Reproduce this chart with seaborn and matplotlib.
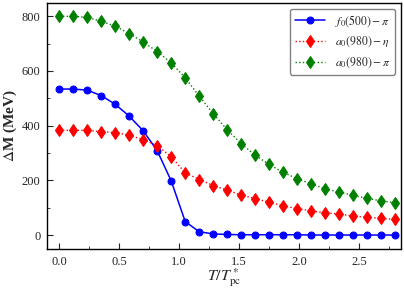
import numpy as np
import pandas as pd
import seaborn as sns
import matplotlib.pyplot as plt

# T/T*_pc grid
t_ratio = [0.0, 0.117, 0.233, 0.35, 0.467, 0.583, 0.7, 0.817, 0.933, 1.05, 1.167, 1.283,
           1.4, 1.517, 1.633, 1.75, 1.867, 1.983, 2.1, 2.217, 2.333, 2.45, 2.567, 2.683, 2.8]

# mass differences (MeV)
dm_f0_pi = [534, 534, 530, 510, 478, 435, 381, 308, 198, 49, 12, 4,
            2, 1, 1, 1, 1, 1, 0, 0, 0, 0, 0, 0, 0]
dm_a0_eta = [383, 383, 383, 378, 375, 365, 349, 327, 286, 228, 203, 181,
             164, 146, 133, 120, 107, 97, 88, 81, 77, 69, 65, 61, 57]
dm_a0_pi = [800, 800, 796, 782, 764, 737, 706, 671, 630, 575, 508, 444,
            385, 334, 292, 258, 229, 206, 187, 169, 157, 145, 134, 125, 118]

labels = [r'$f_0(500)-\pi$', r'$a_0(980)-\eta$', r'$a_0(980)-\pi$']

sns.set_style('ticks')
plt.rcParams['font.family'] = ['Liberation Serif', 'DejaVu Serif']
plt.rcParams['mathtext.fontset'] = 'stix'
plt.rcParams['xtick.direction'] = 'in'
plt.rcParams['ytick.direction'] = 'in'

fig = plt.figure(figsize=(4.04, 2.95), dpi=100)
ax = fig.add_axes([0.117, 0.157, 0.876, 0.834])

sns.lineplot(x=t_ratio, y=dm_f0_pi, ax=ax, color='blue', marker='o', markersize=5,
             markeredgecolor='blue', linestyle='-', linewidth=1.1, label=labels[0])
sns.lineplot(x=t_ratio, y=dm_a0_eta, ax=ax, color='red', marker='d', markersize=6,
             markeredgecolor='red', linestyle=':', linewidth=1.0, label=labels[1])
sns.lineplot(x=t_ratio, y=dm_a0_pi, ax=ax, color='green', marker='d', markersize=6,
             markeredgecolor='green', linestyle=':', linewidth=1.0, label=labels[2])

ax.set_xlim(-0.1, 2.85)
ax.set_ylim(-50, 850)
ax.set_xticks([0.0, 0.5, 1.0, 1.5, 2.0, 2.5])
ax.set_xticks(np.arange(0.25, 2.8, 0.5), minor=True)
ax.set_yticks([0, 200, 400, 600, 800])
ax.set_yticks(np.arange(100, 850, 200), minor=True)
ax.tick_params(which='major', length=4, labelsize=9, pad=5)
ax.tick_params(which='minor', length=2)
for s in ax.spines.values():
    s.set_linewidth(1.0)
    s.set_color('black')

ax.set_xlabel(r'$T/T^*_{\rm pc}$', fontsize=11.5, labelpad=-1)
ax.set_ylabel(r'$\Delta$M (MeV)', fontsize=11, fontweight='bold', labelpad=2)

leg = ax.legend(loc='upper right', fontsize=8.5, frameon=True, fancybox=True,
                edgecolor='gray', framealpha=1, handlelength=2.6, borderpad=0.4,
                labelspacing=0.5)
leg.get_frame().set_linewidth(1.0)

fig.savefig('out.png', dpi=100)
